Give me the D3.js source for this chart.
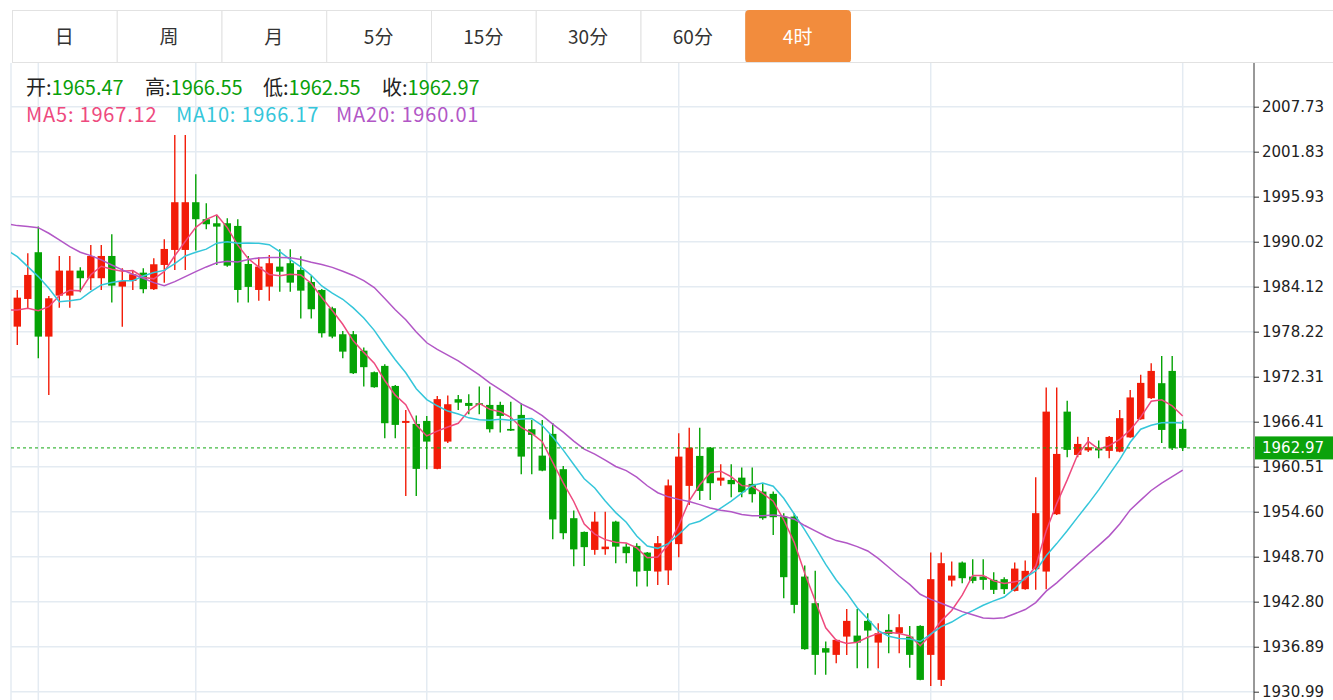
<!DOCTYPE html>
<html>
<head>
<meta charset="utf-8">
<script src="https://cdn.jsdelivr.net/npm/d3@7"></script>
<style>
body { margin: 0; background: #fff; }
svg { display: block; font-family: "Noto Sans CJK SC", "Noto Sans", sans-serif; }
</style>
</head>
<body>
<svg id="chart" width="1333" height="700"></svg>
<script>
const tabs = ["日", "周", "月", "5分", "15分", "30分", "60分", "4时"];
const activeTab = "4时";

// 4h candles, oldest first
const opens = [1978.88,1982.51,1988.64,1977.57,1982.95,1982.95,1986.23,1985.23,1985.23,1988.15,
	1984.13,1984.87,1985.96,1983.79,1986.97,1988.94,1988.94,1995.20,1992.97,1992.44,
	1992.44,1992.09,1987.10,1983.69,1984.13,1986.75,1987.20,1986.32,1984.74,1983.69,
	1981.29,1977.88,1977.88,1975.73,1972.90,1973.73,1971.10,1966.25,1966.12,1966.51,
	1960.22,1963.80,1969.36,1968.87,1968.83,1968.61,1968.61,1965.46,1967.30,1965.42,
	1961.96,1964.81,1960.18,1953.75,1951.95,1949.59,1949.68,1953.30,1950.02,1950.12,
	1949.24,1946.75,1946.90,1950.35,1957.99,1961.92,1963.01,1958.68,1958.77,1959.07,
	1958.25,1957.24,1956.94,1953.96,1953.96,1946.09,1942.60,1936.70,1935.82,1938.22,
	1938.35,1940.28,1937.43,1939.10,1938.67,1938.22,1939.62,1935.82,1932.54,1945.57,
	1947.93,1946.09,1946.09,1945.66,1945.75,1944.21,1944.44,1947.06,1946.75,1954.27,
	1967.73,1962.05,1962.64,1962.93,1962.58,1962.48,1964.35,1966.73,1969.49,1971.46,
	1973.07,1965.47];
const highs = [1983.69,1988.51,1992.00,1982.91,1988.15,1988.15,1986.67,1989.60,1989.60,1991.00,
	1986.54,1986.32,1986.54,1987.85,1990.34,2004.02,2004.02,1998.87,1995.07,1993.53,
	1993.10,1992.97,1988.15,1987.98,1988.28,1989.03,1989.03,1988.11,1985.53,1983.80,
	1981.50,1978.32,1978.32,1976.13,1973.00,1973.95,1971.23,1967.95,1967.23,1967.17,
	1969.79,1969.86,1969.92,1970.01,1971.01,1971.01,1969.04,1969.04,1968.83,1966.64,
	1966.64,1966.25,1960.61,1954.77,1952.00,1954.58,1954.58,1953.40,1950.47,1950.47,
	1949.30,1951.43,1958.84,1964.90,1965.63,1965.63,1963.10,1960.83,1960.83,1960.39,
	1960.39,1958.34,1957.24,1954.41,1954.41,1947.53,1946.84,1937.56,1937.85,1941.85,
	1941.85,1941.29,1939.98,1941.16,1941.16,1939.62,1939.70,1949.24,1949.24,1948.06,
	1948.06,1948.37,1948.37,1946.67,1946.01,1947.93,1948.19,1959.13,1970.88,1970.88,
	1969.17,1964.45,1964.41,1963.95,1964.54,1967.95,1970.58,1972.58,1974.08,1975.04,
	1975.04,1966.55];
const lows = [1976.48,1981.29,1974.74,1969.92,1981.37,1981.37,1983.39,1983.69,1983.69,1982.03,
	1978.88,1983.69,1983.26,1983.69,1984.65,1986.32,1986.32,1988.85,1991.66,1986.97,
	1986.75,1982.03,1982.03,1982.29,1982.29,1983.47,1983.47,1979.93,1979.93,1977.44,
	1977.36,1974.74,1972.68,1971.01,1970.85,1964.24,1964.24,1956.67,1956.67,1960.18,
	1960.18,1963.63,1967.95,1967.39,1967.39,1964.98,1964.98,1965.20,1959.52,1959.52,
	1959.90,1951.00,1951.00,1947.45,1947.49,1948.94,1948.94,1947.85,1947.85,1944.78,
	1944.78,1945.00,1945.00,1948.63,1955.49,1956.15,1956.15,1958.02,1956.50,1956.50,
	1955.80,1953.53,1951.56,1943.26,1941.29,1936.50,1933.20,1933.20,1934.73,1935.82,
	1934.08,1934.08,1934.08,1936.04,1936.04,1934.12,1932.50,1931.75,1931.75,1944.78,
	1945.22,1945.22,1944.35,1943.82,1943.82,1944.15,1944.35,1944.35,1944.44,1954.18,
	1961.75,1961.75,1962.45,1961.62,1961.62,1962.40,1964.30,1966.65,1969.40,1963.63,
	1962.71,1962.55];
const closes = [1982.68,1985.66,1977.57,1982.60,1986.23,1986.23,1985.23,1988.15,1988.15,1984.26,
	1984.87,1985.75,1983.79,1987.06,1989.07,1995.20,1995.20,1992.97,1992.31,1992.00,
	1986.88,1983.69,1984.09,1986.75,1987.20,1986.09,1984.65,1983.60,1981.16,1978.01,
	1977.57,1975.60,1972.77,1973.56,1970.93,1966.21,1965.99,1966.51,1960.22,1963.80,
	1969.37,1968.70,1968.91,1968.48,1968.61,1965.42,1967.17,1965.24,1961.83,1964.68,
	1959.99,1953.59,1951.78,1949.66,1949.95,1953.30,1950.02,1950.02,1949.16,1946.75,
	1946.84,1950.47,1958.05,1961.83,1963.01,1957.33,1958.34,1959.07,1958.21,1957.16,
	1956.90,1953.75,1953.88,1946.01,1942.38,1936.57,1935.82,1936.12,1937.79,1940.28,
	1937.43,1939.01,1938.67,1938.57,1939.45,1935.82,1932.54,1945.75,1947.85,1946.22,
	1945.88,1945.53,1945.66,1944.35,1944.44,1947.14,1946.84,1954.41,1967.73,1962.18,
	1962.71,1963.49,1963.06,1962.64,1964.41,1966.87,1969.59,1971.50,1973.07,1965.33,
	1962.93,1962.97];

// moving averages before the window fills up (index -1 onward)
const ma5Head = [1981.07,1981.07,1981.29,1980.98,1981.50];
const ma10Head = [1988.94,1988.06,1986.75,1985.44,1983.92,1982.16,1982.29,1982.47,1983.47,1984.35];
const ma20Head = [1992.35,1992.13,1992.00,1991.86,1991.13,1990.25,1989.37,1988.64,1988.19,1987.63,
	1986.97,1986.32,1985.75,1985.23,1984.65,1984.26,1984.78,1985.44,1986.09,1986.71];
const maNames = ["MA5", "MA10", "MA20"];
const maNow = [1967.12, 1966.17, 1960.01];
const maColors = ["#ee4a7e", "#35c6da", "#b257c6"];

const yTicks = [2007.73,2001.83,1995.93,1990.02,1984.12,1978.22,1972.31,1966.41,1960.51,1954.60,1948.70,1942.80,1936.89,1930.99];
const gridIdx = [2, 17, 39, 63, 87, 111];

const upColor = "#f21c08";
const downColor = "#05a305";
const gridColor = "#e4ebf2";

const width = 1333, height = 700;
const plotLeft = 11, plotRight = 1254, plotTop = 63, plotBottom = 700;

const svg = d3.select("#chart");

const x = d3.scaleLinear()
	.domain([0, closes.length - 1])
	.range([17.3, 1182.7]);
const y = d3.scaleLinear()
	.domain([1930.99, 2007.73])
	.range([691.7, 106.7]);

const candles = closes.map((c, i) => ({i: i, o: opens[i], h: highs[i], l: lows[i], c: c}));

function movingAvg(n, head) {
	let pts = head.map((v, k) => ({i: k - 1, v: v}));
	for (let i = n - 1; i < closes.length; ++i) {
		pts.push({i: i, v: d3.mean(closes.slice(i - n + 1, i + 1))});
	}
	return pts;
}
const maSeries = [movingAvg(5, ma5Head), movingAvg(10, ma10Head), movingAvg(20, ma20Head)];

// tab bar
const tabX = d3.scaleBand().domain(tabs).range([12, 850]);
svg.append("line")
	.attr("x1", 12).attr("x2", width).attr("y1", 10.5).attr("y2", 10.5)
	.style("stroke", "#e2e2e2");
svg.selectAll(".tab")
	.data(tabs)
	.join("rect")
	.attr("class", "tab")
	.attr("x", d => tabX(d) + 0.5)
	.attr("y", 10.5)
	.attr("width", tabX.bandwidth())
	.attr("height", 52)
	.attr("rx", d => d == activeTab ? 3 : 0)
	.style("fill", d => d == activeTab ? "#f28c3d" : "#fff")
	.style("stroke", d => d == activeTab ? "#f28c3d" : "#e2e2e2");
svg.selectAll(".tabtext")
	.data(tabs)
	.join("text")
	.attr("x", d => tabX(d) + tabX.bandwidth() / 2)
	.attr("y", 44)
	.attr("text-anchor", "middle")
	.style("font-size", "19px")
	.style("fill", d => d == activeTab ? "#fff" : "#333")
	.text(d => d);
svg.append("line")
	.attr("x1", 12).attr("x2", width).attr("y1", plotTop - 0.5).attr("y2", plotTop - 0.5)
	.style("stroke", "#e2e2e2");

// grid
const grid = svg.append("g");
grid.selectAll(".hgrid")
	.data(yTicks)
	.join("line")
	.attr("x1", plotLeft).attr("x2", plotRight)
	.attr("y1", d => y(d)).attr("y2", d => y(d))
	.style("stroke", gridColor)
	.style("stroke-width", 1.5);
grid.selectAll(".vgrid")
	.data([-1].concat(gridIdx))
	.join("line")
	.attr("x1", d => d < 0 ? plotLeft : x(d)).attr("x2", d => d < 0 ? plotLeft : x(d))
	.attr("y1", plotTop).attr("y2", plotBottom)
	.style("stroke", gridColor)
	.style("stroke-width", 1.5);

svg.append("clipPath").attr("id", "plotclip")
	.append("rect")
	.attr("x", plotLeft).attr("y", plotTop)
	.attr("width", plotRight - plotLeft).attr("height", plotBottom - plotTop);
const plot = svg.append("g").attr("clip-path", "url(#plotclip)");

// candles
const bodyW = 7.4;
plot.selectAll(".wick")
	.data(candles)
	.join("line")
	.attr("x1", d => x(d.i)).attr("x2", d => x(d.i))
	.attr("y1", d => y(d.h)).attr("y2", d => y(d.l))
	.style("stroke", d => d.c >= d.o ? upColor : downColor)
	.style("stroke-width", 1.4);
plot.selectAll(".body")
	.data(candles)
	.join("rect")
	.attr("x", d => x(d.i) - bodyW / 2)
	.attr("y", d => y(Math.max(d.o, d.c)))
	.attr("width", bodyW)
	.attr("height", d => Math.max(1.5, Math.abs(y(d.o) - y(d.c))))
	.style("fill", d => d.c >= d.o ? upColor : downColor);

// moving averages
const maLine = d3.line().x(d => x(d.i)).y(d => y(d.v));
plot.selectAll(".ma")
	.data(maSeries)
	.join("path")
	.attr("d", d => maLine(d))
	.style("fill", "none")
	.style("stroke", (d, k) => maColors[k])
	.style("stroke-width", 1.5);

// last price line
const last = candles[candles.length - 1];
plot.append("line")
	.attr("x1", plotLeft).attr("x2", plotRight)
	.attr("y1", y(last.c)).attr("y2", y(last.c))
	.style("stroke", "#12a812")
	.style("stroke-dasharray", "3,3");

// y axis
const yAxis = svg.append("g")
	.attr("transform", "translate(" + plotRight + ",0)")
	.call(d3.axisRight(y).tickValues(yTicks).tickFormat(d3.format(".2f")).tickSize(5).tickSizeOuter(0));
yAxis.select(".domain").remove();
yAxis.selectAll(".tick line").style("stroke", "#333");
yAxis.selectAll(".tick text")
	.style("font-family", "'DejaVu Sans', Verdana, sans-serif")
	.style("font-size", "15px")
	.style("fill", "#222");
svg.append("line")
	.attr("x1", plotRight).attr("x2", plotRight)
	.attr("y1", plotTop).attr("y2", plotBottom)
	.style("stroke", "#333");

svg.append("rect")
	.attr("x", plotRight + 1).attr("y", y(last.c) - 11.5)
	.attr("width", width - plotRight).attr("height", 23)
	.style("fill", "#0ba20b");
svg.append("text")
	.attr("x", plotRight + 8).attr("y", y(last.c))
	.attr("dy", "0.35em")
	.style("font-family", "'DejaVu Sans', Verdana, sans-serif")
	.style("font-size", "15px")
	.style("fill", "#fff")
	.text(d3.format(".2f")(last.c));

// legend
const ohlcNames = ["开", "高", "低", "收"];
const ohlcVals = [last.o, last.h, last.l, last.c];
const ohlcX = [26, 145, 263, 382];
const legend = svg.append("g").style("font-size", "20px");
ohlcNames.forEach((name, k) => {
	let t = legend.append("text").attr("x", ohlcX[k]).attr("y", 95);
	t.append("tspan").style("fill", "#222").text(name + ":");
	t.append("tspan").style("fill", "#0aa00a").text(d3.format(".2f")(ohlcVals[k]));
});
const maX = [26, 176, 336];
maNames.forEach((name, k) => {
	legend.append("text")
		.attr("x", maX[k]).attr("y", 122)
		.style("letter-spacing", "0.8px")
		.style("fill", maColors[k])
		.text(name + ": " + d3.format(".2f")(maNow[k]));
});
</script>
</body>
</html>
